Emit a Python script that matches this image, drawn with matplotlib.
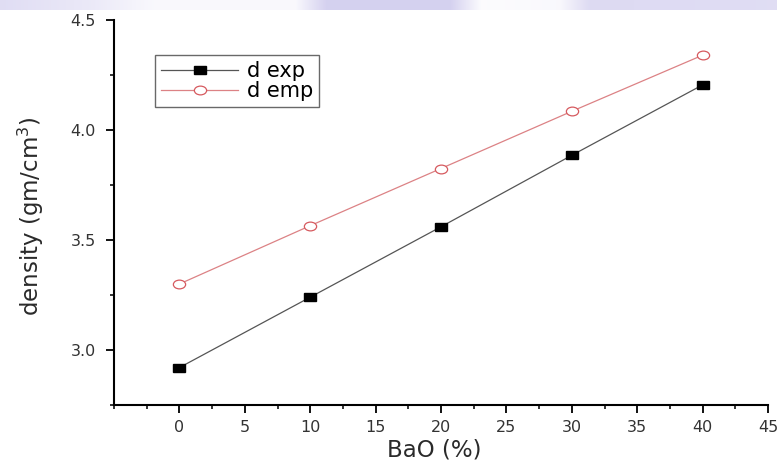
import numpy as np
import matplotlib
matplotlib.use("Agg")
import matplotlib.pyplot as plt
from matplotlib.ticker import MultipleLocator, FormatStrFormatter
from matplotlib.markers import MarkerStyle
from matplotlib.transforms import Affine2D

plt.rcParams['font.family'] = ['DejaVu Sans']

bao = [0, 10, 20, 30, 40]
d_exp = [2.92, 3.24, 3.56, 3.885, 4.205]
d_emp = [3.30, 3.565, 3.825, 4.085, 4.34]

fig = plt.figure(figsize=(7.77, 4.65), dpi=100)

# lavender header band
band = fig.add_axes([0, 1 - 10 / 465, 1, 10 / 465])
xs = np.linspace(0, 1, 777)
prof = np.interp(xs, [0, 0.12, 0.2, 0.38, 0.42, 0.58, 0.62, 0.72, 0.76, 1.0],
                 [0.55, 0.35, 0.1, 0.1, 0.75, 0.75, 0.05, 0.1, 0.6, 0.55])
img = np.ones((1, 777, 3))
lav = np.array([0.78, 0.76, 0.92])
img[0] = 1 - prof[:, None] * (1 - lav)
band.imshow(img, aspect='auto', extent=[0, 1, 0, 1])
band.axis('off')

# wide, flat markers
sq = MarkerStyle('s', transform=Affine2D().scale(1.5, 1.0))
ci = MarkerStyle('o', transform=Affine2D().scale(1.4, 1.0))

ax = fig.add_axes([114 / 777, 60 / 465, (768 - 114) / 777, (405 - 20) / 465])
ax.plot(bao, d_exp, color='#555555', lw=0.9, marker=sq, ms=6,
        mfc='black', mec='black', label='d exp')
ax.plot(bao, d_emp, color='#dc8285', lw=0.9, marker=ci, ms=6.3,
        mfc='white', mec='#d65a5f', mew=0.9, label='d emp')

ax.set_xlim(-5, 45)
ax.set_ylim(2.75, 4.5)
ax.set_xticks([0, 5, 10, 15, 20, 25, 30, 35, 40, 45])
ax.xaxis.set_minor_locator(MultipleLocator(2.5))
ax.yaxis.set_major_locator(MultipleLocator(0.5))
ax.yaxis.set_minor_locator(MultipleLocator(0.25))
ax.yaxis.set_major_formatter(FormatStrFormatter('%.1f'))
for s in ['top', 'right']:
    ax.spines[s].set_visible(False)
for s in ['left', 'bottom']:
    ax.spines[s].set_linewidth(1.5)
ax.tick_params(which='major', direction='out', length=6, width=1.4,
               labelsize=11.5, colors='#111111', labelcolor='#333333')
ax.tick_params(axis='y', which='major', pad=7)
ax.tick_params(axis='x', which='major', pad=5)
ax.tick_params(which='minor', direction='out', length=3.2, width=1.2,
               colors='#111111')

ax.set_xlabel('BaO (%)', fontsize=16.5, color='#2a2a2a')
ax.set_ylabel('density (gm/cm$^3$)', fontsize=16.5, color='#2a2a2a')
ax.xaxis.set_label_coords(0.489, -0.088)
ax.yaxis.set_label_coords(-0.104, 0.49)

leg = ax.legend(loc='upper left', bbox_to_anchor=(41 / 654, 1 - 35 / 385),
                frameon=True, fancybox=False, fontsize=15, handlelength=3.7,
                borderpad=0.3, labelspacing=0.0, handletextpad=0.4,
                borderaxespad=0)
leg.get_frame().set_edgecolor('#444444')
leg.get_frame().set_linewidth(1.0)

fig.savefig('out.png', dpi=100)
